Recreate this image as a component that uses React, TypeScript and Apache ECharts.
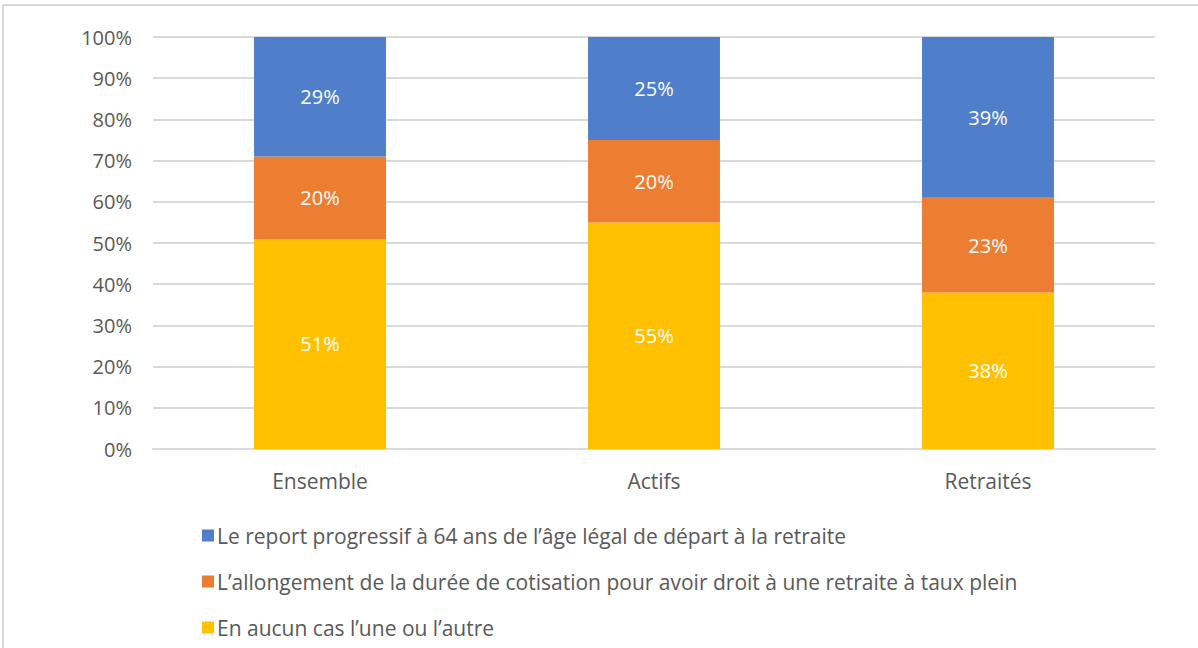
import React, { useEffect, useRef } from "react";
import * as echarts from "echarts";

const categories = ["Ensemble", "Actifs", "Retraités"];
const seriesNames = [
  "Le report progressif à 64 ans de l’âge légal de départ à la retraite",
  "L’allongement de la durée de cotisation pour avoir droit à une retraite à taux plein",
  "En aucun cas l’une ou l’autre",
];
const reportValues = [29, 25, 39];
const allongementValues = [20, 20, 23];
const aucunValues = [51, 55, 38];
const colors = ["#4F7FCB", "#ED7D31", "#FFC000"];

const FONT = "'Open Sans', sans-serif";

export default function App() {
  const ref = useRef<HTMLDivElement>(null);
  useEffect(() => {
    if (!ref.current) return;
    const chart = echarts.init(ref.current, null, { renderer: "svg" });
    const label = {
      show: true,
      position: "inside",
      color: "#FFFFFF",
      fontFamily: FONT,
      fontSize: 20,
      formatter: (p: any) => p.value + "%",
    };
    chart.setOption({
      animation: false,
      backgroundColor: "#FFFFFF",
      grid: { left: 153, right: 43, top: 37, bottom: 199, containLabel: false },
      legend: {
        data: seriesNames,
        orient: "vertical",
        left: 197,
        top: 520,
        itemGap: 25,
        itemWidth: 12,
        itemHeight: 12,
        itemStyle: { borderWidth: 0 },
        icon: "rect",
        textStyle: { color: "#595959", fontFamily: FONT, fontSize: 21, padding: [0, 0, 0, -2] },
        selectedMode: false,
      },
      xAxis: {
        type: "category",
        data: categories,
        axisLine: { lineStyle: { color: "#D9D9D9", width: 2 } },
        axisTick: { show: false },
        axisLabel: { color: "#595959", fontFamily: FONT, fontSize: 21, margin: 21 },
      },
      yAxis: {
        type: "value",
        min: 0,
        max: 100,
        interval: 10,
        axisLabel: {
          formatter: "{value}%",
          color: "#595959",
          fontFamily: FONT,
          fontSize: 20,
          margin: 21,
        },
        splitLine: { lineStyle: { color: "#D9D9D9", width: 2 } },
        axisLine: { show: false },
        axisTick: { show: false },
      },
      series: [
        {
          name: seriesNames[2],
          type: "bar",
          stack: "total",
          data: aucunValues,
          barWidth: "39.5%",
          itemStyle: { color: colors[2] },
          label,
        },
        {
          name: seriesNames[1],
          type: "bar",
          stack: "total",
          data: allongementValues,
          itemStyle: { color: colors[1] },
          label,
        },
        {
          name: seriesNames[0],
          type: "bar",
          stack: "total",
          data: reportValues,
          itemStyle: { color: colors[0] },
          label,
        },
      ],
      graphic: [
        {
          type: "line",
          shape: { x1: 3, y1: 5, x2: 1198, y2: 5 },
          style: { stroke: "#D9D9D9", lineWidth: 2 },
          silent: true,
        },
        {
          type: "line",
          shape: { x1: 3, y1: 5, x2: 3, y2: 648 },
          style: { stroke: "#D9D9D9", lineWidth: 2 },
          silent: true,
        },
      ],
    });
    return () => chart.dispose();
  }, []);
  return (
    <div
      ref={ref}
      style={{ position: "fixed", left: 0, top: 0, width: 1198, height: 648 }}
    />
  );
}
